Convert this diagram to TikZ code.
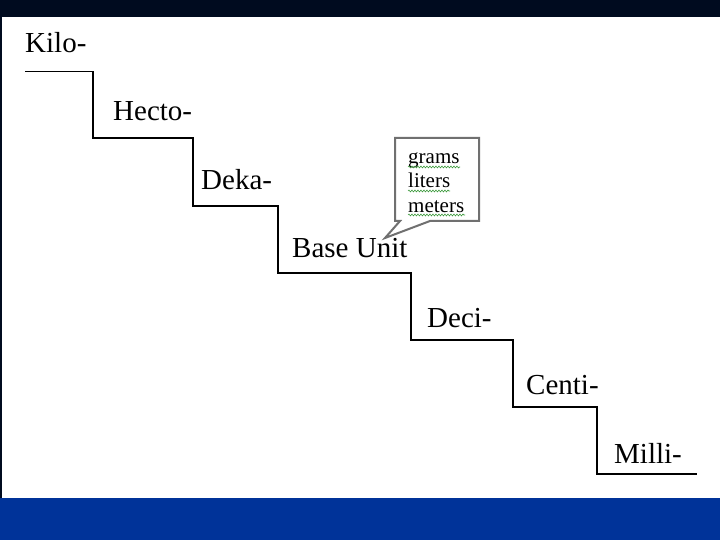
\documentclass[tikz,border=0pt]{standalone}
\usepackage{fontspec}
\setmainfont{Liberation Serif}
\usetikzlibrary{decorations.pathmorphing}
\definecolor{topnavy}{HTML}{000B1F}
\definecolor{botblue}{HTML}{003399}
\definecolor{boxgray}{HTML}{707070}
\definecolor{spellgreen}{HTML}{3C9A3C}
\tikzset{
  lbl/.style={anchor=base west, inner sep=0pt, font=\fontsize{29}{34}\selectfont, text=black},
  stair/.style={line width=1.6pt, black, line join=miter},
  callout/.style={draw=boxgray, line width=2pt, fill=white},
  ctext/.style={anchor=base west, inner sep=0pt, font=\fontsize{21}{24}\selectfont, text=black},
  squig/.style={spellgreen, line width=0.6pt, decorate, decoration={snake, amplitude=0.9pt, segment length=3pt}}
}
\begin{document}
\begin{tikzpicture}[x=1pt,y=-1pt]
\useasboundingbox (0,0) rectangle (720,540);
\fill[white] (0,0) rectangle (720,540);
\fill[topnavy] (0,0) rectangle (720,17);
\fill[botblue] (0,498) rectangle (720,540);
\draw[topnavy, line width=1.5pt] (0.75,17) -- (0.75,498);
% stair corners
\coordinate (s0) at (25,71.5);
\coordinate (s1) at (93,71.5);
\coordinate (s2) at (93,138);
\coordinate (s3) at (193,138);
\coordinate (s4) at (193,206);
\coordinate (s5) at (278,206);
\coordinate (s6) at (278,273);
\coordinate (s7) at (411,273);
\coordinate (s8) at (411,340);
\coordinate (s9) at (513,340);
\coordinate (s10) at (513,407);
\coordinate (s11) at (597,407);
\coordinate (s12) at (597,474);
\coordinate (s13) at (697,474);
\draw[stair] (s0) -- (s1) -- (s2) -- (s3) -- (s4) -- (s5) -- (s6) -- (s7) -- (s8) -- (s9) -- (s10) -- (s11) -- (s12) -- (s13);
% labels
\node[lbl] (kilo) at (25,53) {Kilo-};
\node[lbl] (hecto) at (113,121) {Hecto-};
\node[lbl] (deka) at (201,190) {Deka-};
\node[lbl] (base) at (292,257) {Base Unit};
\node[lbl] (deci) at (427,327) {Deci-};
\node[lbl] (centi) at (526,394) {Centi-};
\node[lbl] (milli) at (614,463) {Milli-};
% callout
\coordinate (tip) at (385,238);
\draw[callout] (395,138) -- (479,138) -- (479,221) -- (430,221) -- (tip) -- (400,221) -- (395,221) -- cycle;
\node[ctext] (g) at (408,164) {grams};
\node[ctext] (l) at (408,188) {liters};
\node[ctext] (m) at (408,212) {meters};
\draw[squig] (g.base west)++(0,3) -- ++(52,0);
\draw[squig] (l.base west)++(0,3) -- ++(42,0);
\draw[squig] (m.base west)++(0,3) -- ++(57,0);
\end{tikzpicture}
\end{document}
